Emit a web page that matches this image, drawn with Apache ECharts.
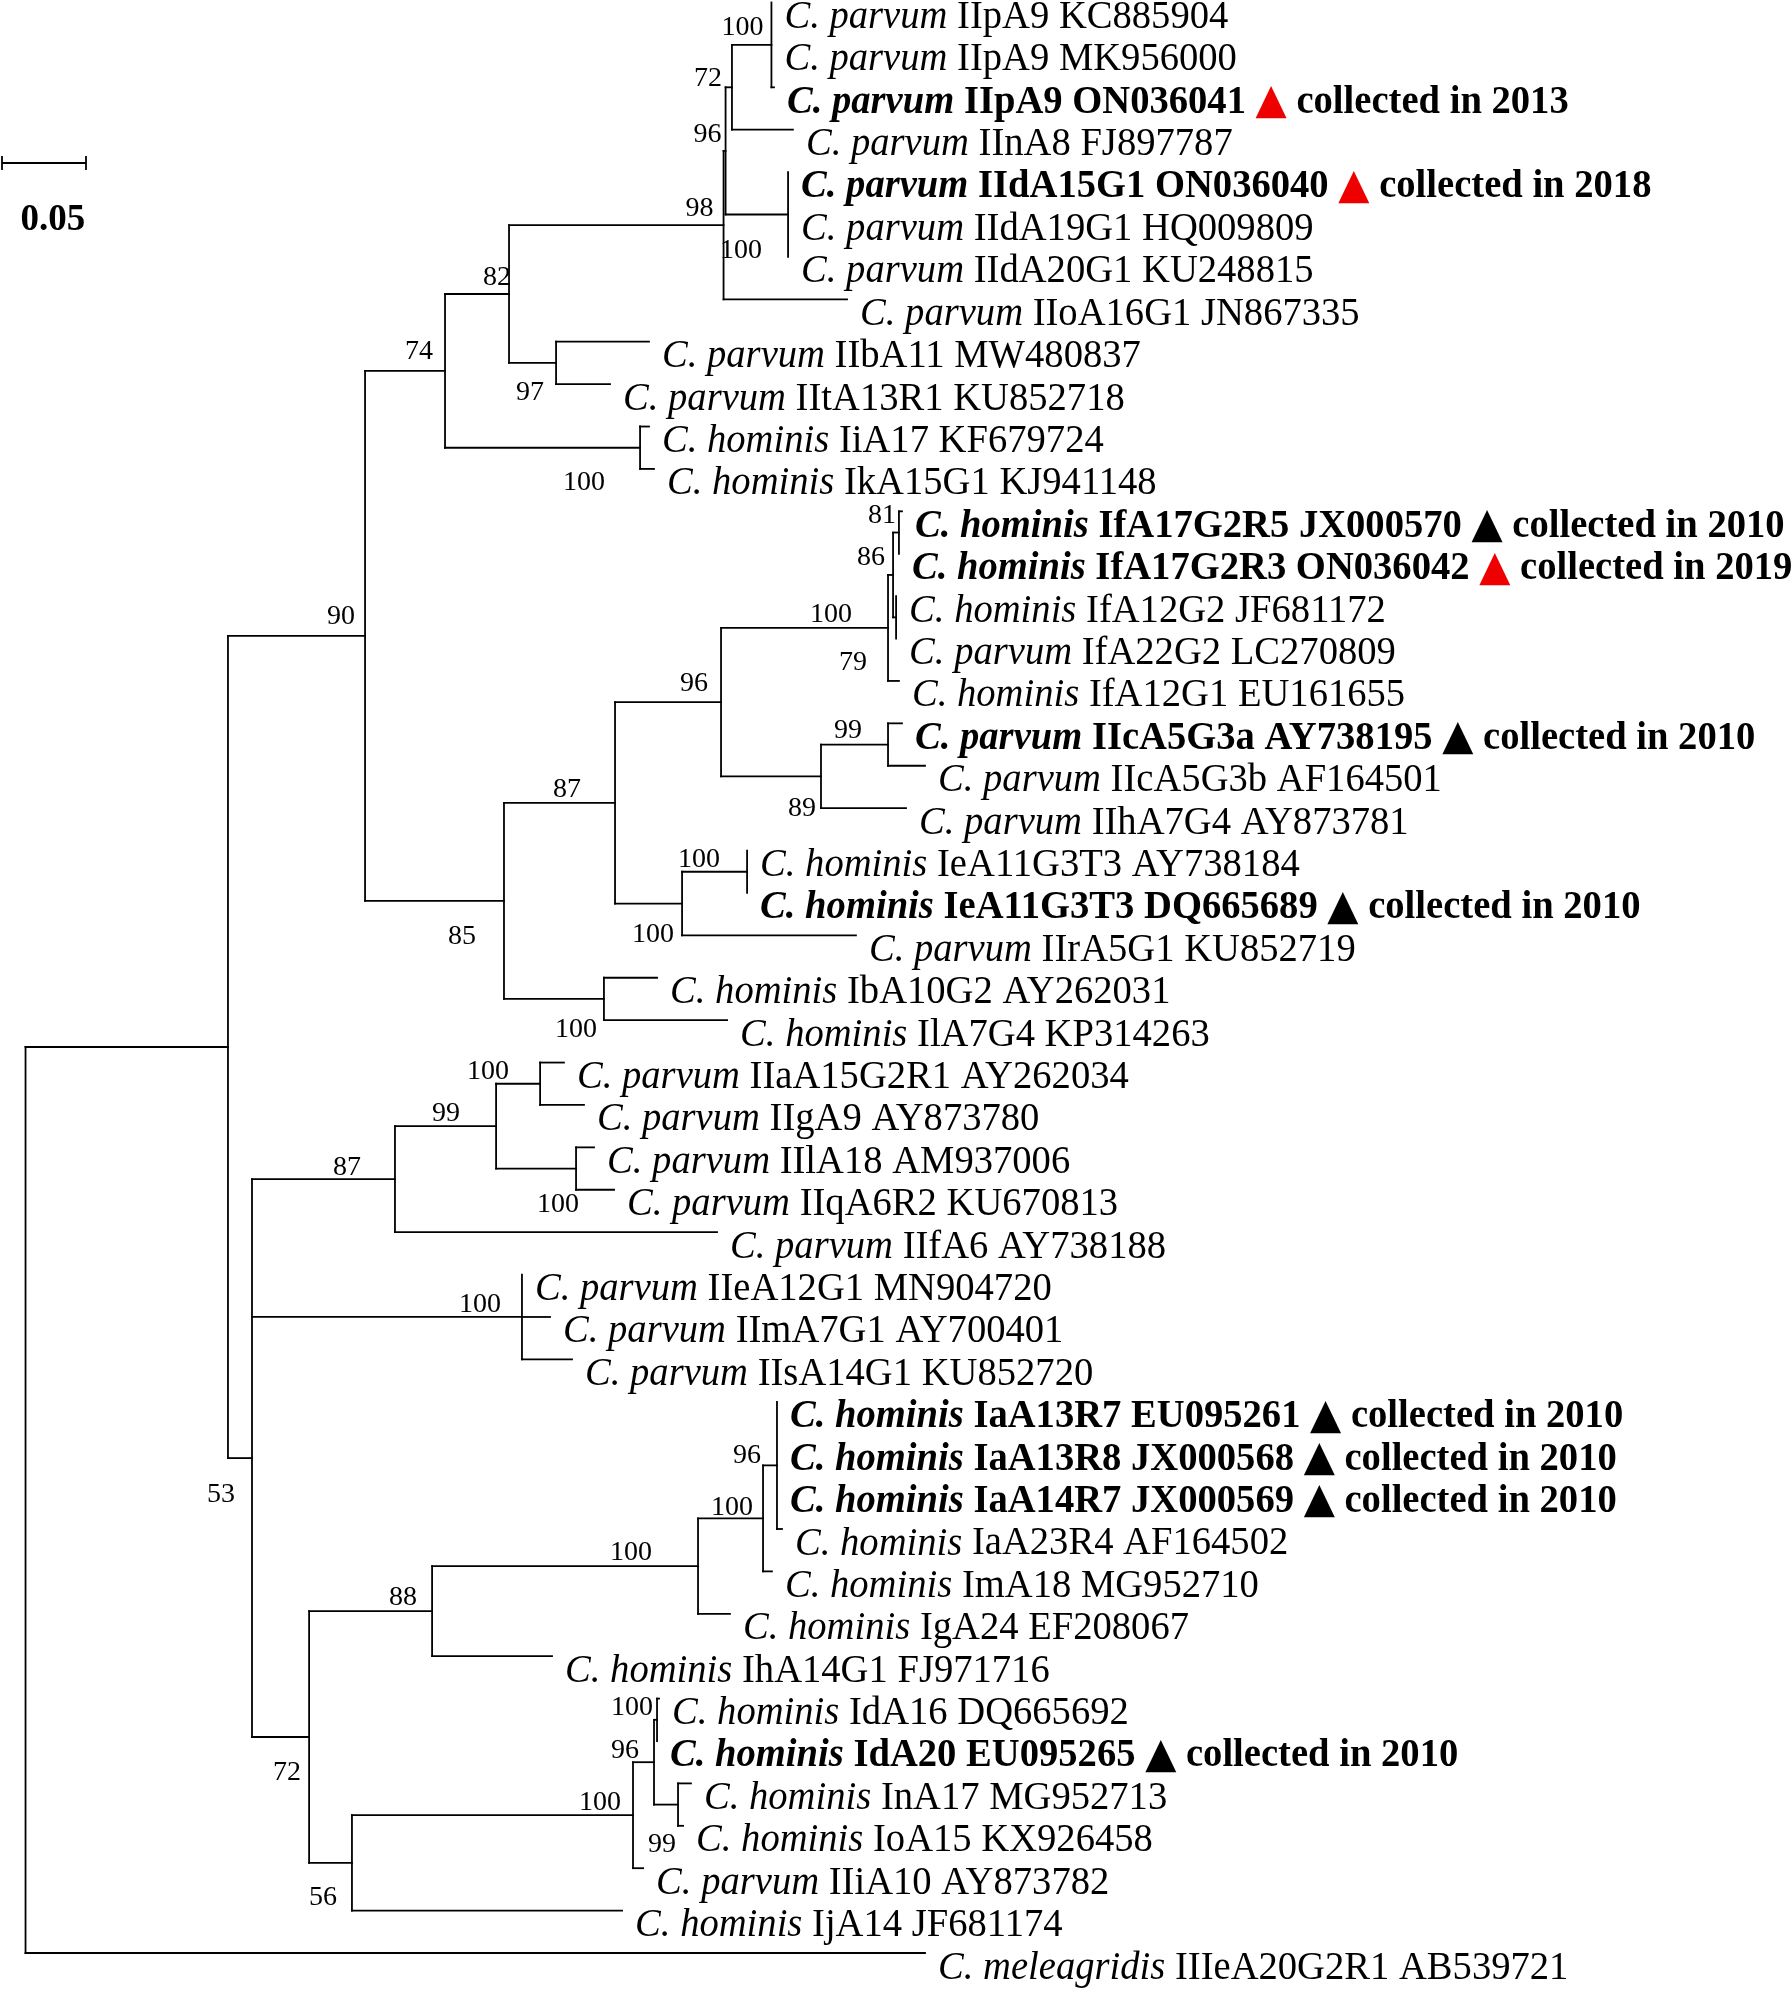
<!DOCTYPE html>
<html>
<head>
<meta charset="utf-8">
<script src="https://cdn.jsdelivr.net/npm/echarts@6/dist/echarts.min.js"></script>
<style>
html,body{margin:0;padding:0;background:#fff;}
#chart{width:1791px;height:1991px;}
</style>
</head>
<body>
<div id="chart"></div>
<script>
// ---------------- DATA ----------------
const leafSpecies = ['C. parvum','C. parvum','C. parvum','C. parvum','C. parvum','C. parvum','C. parvum','C. parvum','C. parvum','C. parvum',
  'C. hominis','C. hominis','C. hominis','C. hominis','C. hominis','C. parvum','C. hominis','C. parvum','C. parvum','C. parvum',
  'C. hominis','C. hominis','C. parvum','C. hominis','C. hominis','C. parvum','C. parvum','C. parvum','C. parvum','C. parvum',
  'C. parvum','C. parvum','C. parvum','C. hominis','C. hominis','C. hominis','C. hominis','C. hominis','C. hominis','C. hominis',
  'C. hominis','C. hominis','C. hominis','C. hominis','C. parvum','C. hominis','C. meleagridis'];
const leafType = ['IIpA9 KC885904','IIpA9 MK956000','IIpA9 ON036041','IInA8 FJ897787','IIdA15G1 ON036040','IIdA19G1 HQ009809',
  'IIdA20G1 KU248815','IIoA16G1 JN867335','IIbA11 MW480837','IItA13R1 KU852718','IiA17 KF679724','IkA15G1 KJ941148',
  'IfA17G2R5 JX000570','IfA17G2R3 ON036042','IfA12G2 JF681172','IfA22G2 LC270809','IfA12G1 EU161655','IIcA5G3a AY738195',
  'IIcA5G3b AF164501','IIhA7G4 AY873781','IeA11G3T3 AY738184','IeA11G3T3 DQ665689','IIrA5G1 KU852719','IbA10G2 AY262031',
  'IlA7G4 KP314263','IIaA15G2R1 AY262034','IIgA9 AY873780','IIlA18 AM937006','IIqA6R2 KU670813','IIfA6 AY738188',
  'IIeA12G1 MN904720','IImA7G1 AY700401','IIsA14G1 KU852720','IaA13R7 EU095261','IaA13R8 JX000568','IaA14R7 JX000569',
  'IaA23R4 AF164502','ImA18 MG952710','IgA24 EF208067','IhA14G1 FJ971716','IdA16 DQ665692','IdA20 EU095265',
  'InA17 MG952713','IoA15 KX926458','IIiA10 AY873782','IjA14 JF681174','IIIeA20G2R1 AB539721'];
// collection note for highlighted sequences ('' = none)
const leafNote = ['','','collected in 2013','','collected in 2018','','','','','',
  '','','collected in 2010','collected in 2019','','','','collected in 2010','','',
  '','collected in 2010','','','','','','','','',
  '','','','collected in 2010','collected in 2010','collected in 2010','','','','',
  '','collected in 2010','','','','',''];
// marker kind for highlighted sequences: 'new' (this study) / 'old'
const leafMarker = ['','','new','','new','','','','','',
  '','','old','new','','','','old','','',
  '','old','','','','','','','','',
  '','','','old','old','old','','','','',
  '','old','','','','',''];
const leafParent = ['nIIp','nIIp','nIIp','n72a','nIId','nIId','nIId','n98','n97','n97',
  'nIiIk','nIiIk','n81','n81','n79','n79','nIf','n99a','n99a','n89',
  'nIeI','nIeI','nIeO','nIbIl','nIbIl','nIIag','nIIag','nIIlq','nIIlq','n87b',
  'nIIe','nIIe','nIIe','nIa96','nIa96','nIa96','nIa96','nIaI','nIaO','n88',
  'nIdA','nIdA','nId99','nId99','nId','n56','root'];
// cumulative distance of each tip from the root (substitutions/site)
const leafDepth = [0.4440,0.4440,0.4455,0.4568,0.4539,0.4539,0.4539,0.4890,0.3711,0.3479,
  0.3711,0.3741,0.5217,0.5199,0.5182,0.5182,0.5199,0.5217,0.5354,0.5241,
  0.4295,0.4295,0.4943,0.3759,0.4176,0.3205,0.3324,0.3384,0.3503,0.4116,
  0.2955,0.3122,0.3253,0.4473,0.4473,0.4473,0.4503,0.4443,0.4193,0.3134,
  0.3771,0.3759,0.3961,0.3914,0.3676,0.3551,0.5354];
// internal nodes
const nodeIds = ['root','ing','n90','n74','n82','n98','n96a','n72a','nIIp','nIId','n97','nIiIk',
  'n85','n87a','n96b','nIf','n86','n81','n79','n89','n99a','nIeO','nIeI','nIbIl',
  'n53','n87b','n99b','nIIag','nIIlq','nIIe','n72b','n88','nIaO','nIaI','nIa96',
  'n56','nId','nId96','nIdA','nId99'];
const nodeParent = ['','root','ing','n90','n74','n82','n98','n96a','n72a','n96a','n82','n74',
  'n90','n85','n87a','n96b','nIf','n86','n86','n96b','n89','n87a','nIeO','n85',
  'ing','n53','n87b','n99b','n99b','n53','n53','n72b','n88','nIaO','nIaI',
  'n72b','n56','nId','nId96','nId96'];
const nodeDepth = [0,0.1205,0.2021,0.2497,0.2878,0.4155,0.4167,0.4205,0.4440,0.4539,0.3158,0.3658,
  0.2848,0.3509,0.4140,0.5134,0.5164,0.5199,0.5182,0.4735,0.5134,0.3908,0.4295,0.3443,
  0.1348,0.2199,0.2801,0.3063,0.3277,0.2955,0.1688,0.2420,0.4003,0.4390,0.4473,
  0.1943,0.3616,0.3741,0.3759,0.3884];
const nodeSupport = ['','',90,74,82,98,96,72,100,100,97,100,
  85,87,96,100,86,81,79,89,99,100,100,100,
  53,87,99,100,100,100,72,88,100,100,96,
  56,100,96,100,99];
const scaleBarLength = 0.05;

// ---------------- STYLE ----------------
// bootstrap label centre offset from its node, in px
const supportOffset = {
  n90:[-24,-19], n74:[-26,-19], n82:[-12,-16], n98:[-24,-16], n96a:[-18,-16], n72a:[-24,-9],
  nIIp:[-29,-17], nIId:[-47,36], n97:[-26,30], nIiIk:[-56,35], n85:[-42,36], n87a:[-48,-13],
  n96b:[-27,-18], nIf:[-57,-13], n86:[-22,-17], n81:[-17,-17], n79:[-43,45], n89:[-19,32],
  n99a:[-40,-14], nIeO:[-29,31], nIeI:[-48,-12], nIbIl:[-28,31], n53:[-31,37], n87b:[-48,-12],
  n99b:[-50,-13], nIIag:[-52,-12], nIIlq:[-18,36], nIIe:[-42,-12], n72b:[-22,36], n88:[-29,-13],
  nIaO:[-67,-13], nIaI:[-31,-11], nIa96:[-30,-10], n56:[-29,35], nId:[-33,-13], nId96:[-29,-12],
  nIdA:[-25,-12], nId99:[-16,40]
};
const markerColor = {new:'#ee0000', old:'#000000'};
const SERIF = '"Liberation Serif","Times New Roman",serif';
const LEAF_FS = 40, LEAF_SX = 0.965, SUP_FS = 28, TRI_FS = 42, LINE_W = 1.8;
const LABEL_DX = 13, LABEL_DY = 15;

// ---------------- TREE LAYOUT ----------------
const nodeIndex = {};
nodeIds.forEach((id, i) => nodeIndex[id] = i);
const childrenY = nodeIds.map(() => []);
const nodeY = new Array(nodeIds.length).fill(null);
function computeY(k) {
  if (nodeY[k] !== null) return nodeY[k];
  const ys = [];
  leafParent.forEach((p, i) => { if (p === nodeIds[k]) ys.push(i); });
  nodeParent.forEach((p, j) => { if (p === nodeIds[k]) ys.push(computeY(j)); });
  childrenY[k] = ys;
  nodeY[k] = (Math.min.apply(null, ys) + Math.max.apply(null, ys)) / 2;
  return nodeY[k];
}
nodeIds.forEach((id, k) => computeY(k));

const segments = [];
nodeIds.forEach((id, k) => {
  const ys = childrenY[k];
  segments.push([nodeDepth[k], Math.min.apply(null, ys), nodeDepth[k], Math.max.apply(null, ys)]);
});
leafParent.forEach((p, i) => {
  const k = nodeIndex[p];
  segments.push([nodeDepth[k], i, leafDepth[i], i]);
});
nodeParent.forEach((p, j) => {
  if (!p) return;
  const k = nodeIndex[p];
  segments.push([nodeDepth[k], nodeY[j], nodeDepth[j], nodeY[j]]);
});

const leafData = leafDepth.map((d, i) => [d, i, i]);
const supportData = [];
nodeIds.forEach((id, k) => {
  if (nodeSupport[k] !== '') supportData.push([nodeDepth[k], nodeY[k], nodeSupport[k], k]);
});

const rich = {
  i: {fontFamily: SERIF, fontSize: LEAF_FS, fontStyle: 'italic', fill: '#000'},
  r: {fontFamily: SERIF, fontSize: LEAF_FS, fill: '#000'},
  bi: {fontFamily: SERIF, fontSize: LEAF_FS, fontStyle: 'italic', fontWeight: 'bold', fill: '#000'},
  b: {fontFamily: SERIF, fontSize: LEAF_FS, fontWeight: 'bold', fill: '#000'},
  tnew: {fontFamily: '"DejaVu Sans"', fontSize: TRI_FS, fill: markerColor.new},
  told: {fontFamily: '"DejaVu Sans"', fontSize: TRI_FS, fill: markerColor.old}
};
function leafText(i) {
  if (leafNote[i]) {
    return '{bi|' + leafSpecies[i] + '}{b| ' + leafType[i] + ' }{' + (leafMarker[i] === 'new' ? 'tnew' : 'told') + '|▲}{b| ' + leafNote[i] + '}';
  }
  return '{i|' + leafSpecies[i] + '}{r| ' + leafType[i] + '}';
}

// ---------------- CHART ----------------
const chart = echarts.init(document.getElementById('chart'), null, {renderer: 'canvas'});
const option = {
  animation: false,
  backgroundColor: '#ffffff',
  grid: {left: 0, right: 0, top: 0, bottom: 0},
  xAxis: {type: 'value', min: -0.0152, max: 1.0509, show: false},
  yAxis: {type: 'value', inverse: true, min: -0.059, max: 46.896, show: false},
  series: [
    {
      type: 'custom', silent: true,
      data: segments,
      encode: {x: [0, 2], y: [1, 3]},
      renderItem: function (params, api) {
        const p1 = api.coord([api.value(0), api.value(1)]);
        const p2 = api.coord([api.value(2), api.value(3)]);
        return {type: 'line', shape: {x1: p1[0], y1: p1[1], x2: p2[0], y2: p2[1]},
          style: {stroke: '#000', lineWidth: LINE_W, lineCap: 'square'}};
      }
    },
    {
      type: 'custom', silent: true,
      data: leafData,
      encode: {x: 0, y: 1},
      renderItem: function (params, api) {
        const p = api.coord([api.value(0), api.value(1)]);
        const i = api.value(2);
        return {type: 'text', x: p[0] + LABEL_DX, y: p[1] + LABEL_DY, scaleX: LEAF_SX,
          style: {text: leafText(i), rich: rich, align: 'left', verticalAlign: 'middle',
            fontFamily: SERIF, fontSize: LEAF_FS, fill: '#000'}};
      }
    },
    {
      type: 'custom', silent: true,
      data: supportData,
      encode: {x: 0, y: 1},
      renderItem: function (params, api) {
        const p = api.coord([api.value(0), api.value(1)]);
        const k = api.value(3);
        const off = supportOffset[nodeIds[k]] || [-25, -14];
        return {type: 'text', x: p[0] + off[0], y: p[1] + off[1],
          style: {text: String(api.value(2)), align: 'center', verticalAlign: 'middle',
            fontFamily: SERIF, fontSize: SUP_FS, fill: '#000'}};
      }
    }
  ]
};
chart.setOption(option);

// scale bar: length taken from the x scale
const x0 = chart.convertToPixel({gridIndex: 0}, [0, 0])[0];
const x1 = chart.convertToPixel({gridIndex: 0}, [scaleBarLength, 0])[0];
const sbLen = x1 - x0;
const sbLeft = 2, sbY = 163;
chart.setOption({
  graphic: [
    {type: 'line', shape: {x1: sbLeft, y1: sbY, x2: sbLeft + sbLen, y2: sbY}, style: {stroke: '#000', lineWidth: LINE_W}},
    {type: 'line', shape: {x1: sbLeft, y1: sbY - 7, x2: sbLeft, y2: sbY + 7}, style: {stroke: '#000', lineWidth: LINE_W}},
    {type: 'line', shape: {x1: sbLeft + sbLen, y1: sbY - 7, x2: sbLeft + sbLen, y2: sbY + 7}, style: {stroke: '#000', lineWidth: LINE_W}},
    {type: 'text', x: sbLeft + sbLen / 2 + 9, y: 220,
      style: {text: String(scaleBarLength), align: 'center', verticalAlign: 'middle',
        fontFamily: SERIF, fontSize: 37, fontWeight: 'bold', fill: '#000'}}
  ]
});
</script>
</body>
</html>
